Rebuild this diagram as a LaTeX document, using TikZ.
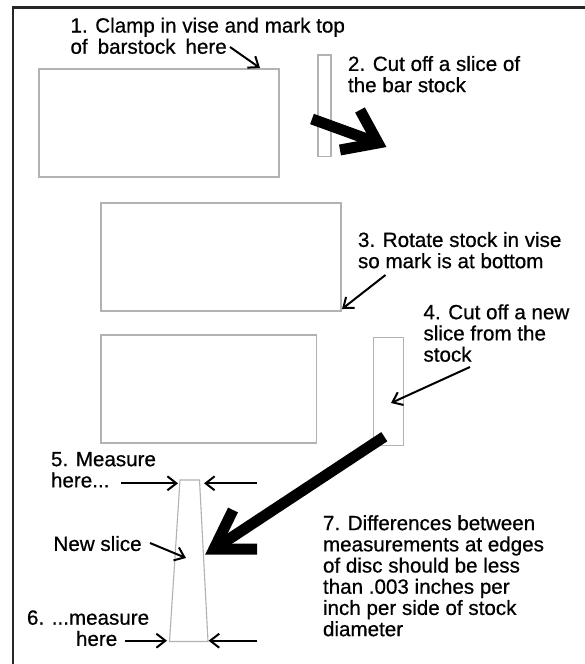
\documentclass[tikz,border=0pt]{standalone}
\usepackage{fontspec}
\setmainfont{Liberation Sans}[FakeBold=0.6]
\usetikzlibrary{arrows.meta,calc}
\begin{document}
\begin{tikzpicture}[x=1pt,y=-1pt,
  stockbox/.style={draw=black!30, line width=1.1pt, inner sep=0pt, outer sep=0pt},
  slicefill/.style={draw=black!30, line width=1.1pt},
  note/.style={anchor=north west, inner sep=0pt, outer sep=0pt, align=left, font=\fontsize{20.6}{21.2}\selectfont},
  pointer/.style={draw=black, line width=2pt, -{Straight Barb[length=9pt,width=14pt]}},
  bigarrow/.style={draw=black, line width=11pt, line join=miter, line cap=butt},
  frame/.style={draw=black!85, line width=2.6pt}]
\useasboundingbox (0,0) rectangle (584,664);
\fill[white] (0,0) rectangle (584,664);
% frame (top and left edges only)
\draw[frame] (13,680) -- (13,7.5) -- (600,7.5);
% stock pieces
\node[stockbox, minimum width=240pt, minimum height=108pt] (bar1) at (159,123) {};
\node[stockbox, minimum width=13pt, minimum height=101.5pt] (slice1) at (324.5,105.75) {};
\node[stockbox, minimum width=240pt, minimum height=108pt] (bar2) at (221,257) {};
\node[stockbox, minimum width=215.5pt, minimum height=108pt] (bar3) at (208.75,389) {};
\node[stockbox, minimum width=30pt, minimum height=107.7pt] (slice2) at (388.3,391.2) {};
% new slice (trapezoid)
\coordinate (nsTL) at (180,480);
\coordinate (nsTR) at (199.5,480);
\coordinate (nsBR) at (208,641.5);
\coordinate (nsBL) at (169.5,641.5);
\draw[slicefill] (nsTL) -- (nsTR) -- (nsBR) -- (nsBL) -- cycle;
% texts
\node[note] (t1) at (70.5,17.6) {1. Clamp in vise and mark top\\of\hspace{10pt}barstock\hspace{10pt}here};
\node[note] (t2) at (348,56) {2. Cut off a slice of\\the bar stock};
\node[note] (t3) at (358,232) {3. Rotate stock in vise\\so mark is at bottom};
\node[note] (t4) at (423.5,304.3) {4. Cut off a new\\slice from the\\stock};
\node[note] (t5) at (51,452) {5. Measure\\here...};
\node[note] (tns) at (53.5,536) {New slice};
\node[note] (t6) at (27,610.3) {6. ...measure\\\hspace*{49pt}here};
\node[note] (t7) at (323,515.2) {7. Differences between\\measurements at edges\\of disc should be less\\than .003 inches per\\inch per side of stock\\diameter};
% pointers
\coordinate (p1s) at (230,47);   \coordinate (p1e) at (260,68);
\coordinate (p3s) at (385.5,275); \coordinate (p3e) at (342,309);
\coordinate (p4s) at (470,367);  \coordinate (p4e) at (391,403);
\coordinate (pns) at (150,543);  \coordinate (pne) at (186,558);
\draw[pointer] (p1s) -- (p1e);
\draw[pointer] (p3s) -- (p3e);
\draw[pointer] (p4s) -- (p4e);
\draw[pointer] (pns) -- (pne);
% measuring arrows
\coordinate (m1a) at (121,483.3); \coordinate (m1b) at (178,483.3);
\coordinate (m2a) at (257,483.3); \coordinate (m2b) at (204,483.3);
\coordinate (m3a) at (125,640.7); \coordinate (m3b) at (167,640.7);
\coordinate (m4a) at (257,640.7); \coordinate (m4b) at (208.6,640.7);
\draw[pointer] (m1a) -- (m1b);
\draw[pointer] (m2a) -- (m2b);
\draw[pointer] (m3a) -- (m3b);
\draw[pointer] (m4a) -- (m4b);
% big arrows
\coordinate (b1s) at (312,119); \coordinate (b1t) at (378,143);
\coordinate (b1u) at (360,110); \coordinate (b1l) at (340,150);
\draw[bigarrow] (b1s) -- (b1t);
\draw[bigarrow] (b1u) -- (b1t) -- (b1l);
\coordinate (b2s) at (384.3,436.7); \coordinate (b2t) at (214,549);
\coordinate (b2u) at (233,510); \coordinate (b2l) at (257,549);
\draw[bigarrow] (b2s) -- (b2t);
\draw[bigarrow] (b2u) -- (b2t) -- (b2l);
\end{tikzpicture}
\end{document}
